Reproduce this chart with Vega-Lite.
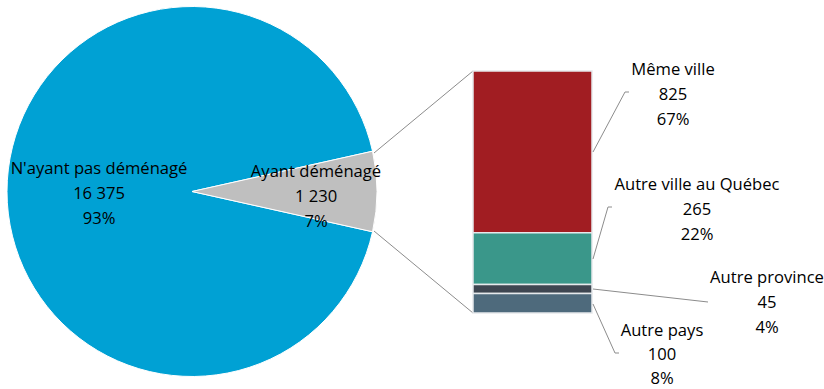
{
  "$schema": "https://vega.github.io/schema/vega-lite/v6.json",
  "width": 824,
  "height": 389,
  "padding": 0,
  "autosize": {"type": "fit", "contains": "padding"},
  "config": {"view": {"stroke": null}, "text": {"font": "Open Sans", "fontSize": 16.6, "color": "#000000"}},
  "datasets": {
    "pie": [
      {"cat": "N'ayant pas déménagé", "value": 16375, "label": "N'ayant pas déménagé\n16 375\n93%"},
      {"cat": "Ayant déménagé", "value": 1230, "label": "Ayant déménagé\n1 230\n7%"}
    ],
    "bar": [
      {"cat": "Même ville", "value": 825, "ordre": 4, "label": "Même ville\n825\n67%"},
      {"cat": "Autre ville au Québec", "value": 265, "ordre": 3, "label": "Autre ville au Québec\n265\n22%"},
      {"cat": "Autre province", "value": 45, "ordre": 2, "label": "Autre province\n45\n4%"},
      {"cat": "Autre pays", "value": 100, "ordre": 1, "label": "Autre pays\n100\n8%"}
    ],
    "one": [{}]
  },
  "layer": [
    {
      "data": {"name": "pie"},
      "mark": {"type": "arc", "outerRadius": 185, "x": 192, "y": 191.5, "stroke": "#ffffff", "strokeWidth": 1},
      "encoding": {
        "theta": {"field": "value", "type": "quantitative", "stack": true, "scale": {"type": "linear", "range": [1.3513, 7.6345]}},
        "order": {"field": "value", "type": "quantitative", "sort": "ascending"},
        "color": {
          "field": "cat", "type": "nominal", "legend": null,
          "scale": {
            "domain": ["N'ayant pas déménagé", "Ayant déménagé", "Même ville", "Autre ville au Québec", "Autre province", "Autre pays"],
            "range": ["#00A1D4", "#BFBFBF", "#A11D22", "#3A978A", "#3E4651", "#4E6A7C"]
          }
        }
      }
    },
    {
      "data": {"name": "pie"},
      "mark": {"type": "text", "radius": 93, "x": 192, "y": 169, "lineBreak": "\n", "lineHeight": 25, "align": "center", "baseline": "middle"},
      "encoding": {
        "theta": {"field": "value", "type": "quantitative", "stack": true},
        "order": {"field": "value", "type": "quantitative", "sort": "ascending"},
        "text": {"condition": {"test": "datum.cat === \"N'ayant pas déménagé\"", "field": "label"}, "value": ""}
      }
    },
    {
      "data": {"name": "pie"},
      "mark": {"type": "text", "radius": 124, "x": 192, "y": 172, "lineBreak": "\n", "lineHeight": 25, "align": "center", "baseline": "middle"},
      "encoding": {
        "theta": {"field": "value", "type": "quantitative", "stack": true},
        "order": {"field": "value", "type": "quantitative", "sort": "ascending"},
        "text": {"condition": {"test": "datum.cat === 'Ayant déménagé'", "field": "label"}, "value": ""}
      }
    },
    {
      "data": {"name": "one"},
      "mark": {"type": "rule", "color": "#8C8C8C", "strokeWidth": 1},
      "encoding": {"x": {"value": 374}, "y": {"value": 153}, "x2": {"value": 473}, "y2": {"value": 71}}
    },
    {
      "data": {"name": "one"},
      "mark": {"type": "rule", "color": "#8C8C8C", "strokeWidth": 1},
      "encoding": {"x": {"value": 374}, "y": {"value": 231}, "x2": {"value": 473}, "y2": {"value": 313}}
    },
    {
      "data": {"name": "bar"},
      "transform": [{"stack": "value", "groupby": [], "sort": [{"field": "ordre", "order": "ascending"}], "as": ["v0", "v1"]}],
      "mark": {"type": "rect", "stroke": "#E6E9EC", "strokeWidth": 1.5},
      "encoding": {
        "x": {"value": 473},
        "x2": {"value": 592},
        "y": {"field": "v0", "type": "quantitative", "axis": null, "scale": {"domain": [0, 1235], "range": [313, 71], "nice": false, "zero": true}},
        "y2": {"field": "v1"},
        "color": {"field": "cat", "type": "nominal", "legend": null}
      }
    },
    {"data": {"name": "one"}, "mark": {"type": "rule", "color": "#8C8C8C"}, "encoding": {"x": {"value": 593}, "y": {"value": 152}, "x2": {"value": 625}, "y2": {"value": 92}}},
    {"data": {"name": "one"}, "mark": {"type": "rule", "color": "#8C8C8C"}, "encoding": {"x": {"value": 625}, "y": {"value": 92}, "x2": {"value": 629}, "y2": {"value": 92}}},
    {"data": {"name": "one"}, "mark": {"type": "rule", "color": "#8C8C8C"}, "encoding": {"x": {"value": 593}, "y": {"value": 259}, "x2": {"value": 608}, "y2": {"value": 207}}},
    {"data": {"name": "one"}, "mark": {"type": "rule", "color": "#8C8C8C"}, "encoding": {"x": {"value": 608}, "y": {"value": 207}, "x2": {"value": 612}, "y2": {"value": 207}}},
    {"data": {"name": "one"}, "mark": {"type": "rule", "color": "#8C8C8C"}, "encoding": {"x": {"value": 593}, "y": {"value": 289}, "x2": {"value": 708}, "y2": {"value": 302}}},
    {"data": {"name": "one"}, "mark": {"type": "rule", "color": "#8C8C8C"}, "encoding": {"x": {"value": 593}, "y": {"value": 304}, "x2": {"value": 615}, "y2": {"value": 353}}},
    {"data": {"name": "one"}, "mark": {"type": "rule", "color": "#8C8C8C"}, "encoding": {"x": {"value": 615}, "y": {"value": 353}, "x2": {"value": 619}, "y2": {"value": 353}}},
    {
      "data": {"name": "bar"},
      "transform": [{"filter": "datum.cat === 'Même ville'"}],
      "mark": {"type": "text", "x": 673, "y": 70, "lineBreak": "\n", "lineHeight": 25, "align": "center", "baseline": "middle"},
      "encoding": {"text": {"field": "label"}}
    },
    {
      "data": {"name": "bar"},
      "transform": [{"filter": "datum.cat === 'Autre ville au Québec'"}],
      "mark": {"type": "text", "x": 697, "y": 185, "lineBreak": "\n", "lineHeight": 25, "align": "center", "baseline": "middle"},
      "encoding": {"text": {"field": "label"}}
    },
    {
      "data": {"name": "bar"},
      "transform": [{"filter": "datum.cat === 'Autre province'"}],
      "mark": {"type": "text", "x": 767, "y": 278, "lineBreak": "\n", "lineHeight": 25, "align": "center", "baseline": "middle"},
      "encoding": {"text": {"field": "label"}}
    },
    {
      "data": {"name": "bar"},
      "transform": [{"filter": "datum.cat === 'Autre pays'"}],
      "mark": {"type": "text", "x": 662, "y": 331, "lineBreak": "\n", "lineHeight": 24, "align": "center", "baseline": "middle"},
      "encoding": {"text": {"field": "label"}}
    }
  ]
}
